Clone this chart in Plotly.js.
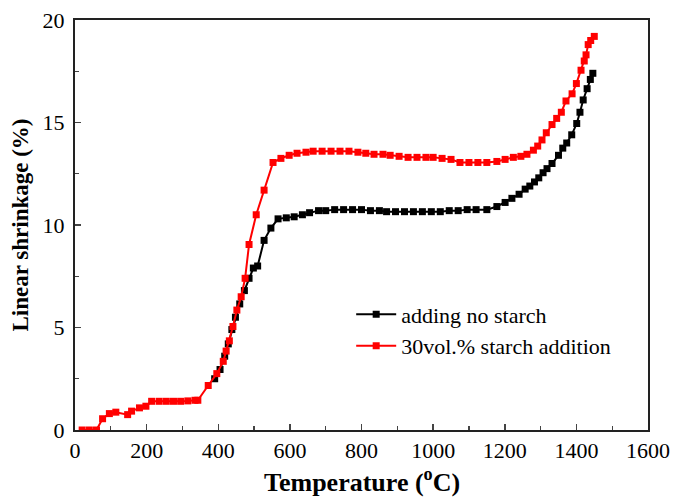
<!DOCTYPE html>
<html>
<head>
<meta charset="utf-8">
<script src="https://cdn.plot.ly/plotly-3.0.1.min.js"></script>
<style>html,body{margin:0;padding:0;background:#fff;}#chart{width:673px;height:498px;}</style>
</head>
<body>
<div id="chart"></div>
<script>
var noStarchT = [390,405,418,428,438,448,460,473,486,498,510,528,547,567,590,612,635,655,680,700,725,750,775,800,825,850,870,895,920,945,970,995,1020,1045,1070,1095,1120,1150,1178,1201,1220,1240,1257,1270,1283,1295,1307,1318,1332,1350,1362,1373,1387,1401,1410,1419,1430,1439,1446];
var noStarchY = [2.5,2.95,3.6,4.2,4.9,5.5,6.15,6.8,7.4,7.9,8.0,9.25,9.85,10.3,10.35,10.4,10.5,10.6,10.7,10.7,10.75,10.75,10.75,10.75,10.7,10.7,10.65,10.65,10.65,10.65,10.65,10.65,10.65,10.7,10.7,10.75,10.75,10.75,10.9,11.1,11.3,11.5,11.75,11.9,12.1,12.3,12.55,12.75,13.0,13.4,13.75,14.0,14.4,14.95,15.5,16.1,16.65,17.1,17.4];

var starchT = [20,40,60,77,96,114,147,158,180,198,214,235,255,275,295,315,335,343,372,396,414,422,431,441,452,464,475,486,506,528,553,575,598,620,645,665,690,715,740,765,790,812,835,860,880,905,930,955,980,1000,1025,1050,1075,1100,1125,1150,1178,1201,1224,1245,1262,1280,1292,1304,1316,1332,1345,1358,1371,1388,1400,1413,1422,1427,1433,1440,1450];
var starchY = [0,0,0,0.55,0.8,0.87,0.75,0.92,1.08,1.16,1.4,1.4,1.4,1.4,1.4,1.42,1.45,1.45,2.17,2.75,3.35,3.85,4.35,5.05,5.85,6.5,7.4,9.05,10.5,11.7,13.05,13.25,13.4,13.5,13.55,13.6,13.6,13.6,13.6,13.6,13.55,13.5,13.45,13.45,13.4,13.35,13.3,13.3,13.3,13.3,13.25,13.2,13.05,13.05,13.05,13.05,13.1,13.2,13.3,13.35,13.45,13.65,13.85,14.15,14.5,14.9,15.2,15.5,16.05,16.4,16.9,17.55,18.0,18.3,18.8,19.0,19.2];

var seriesNames = ['adding no starch','30vol.% starch addition'];
var xTitle = 'Temperature (<sup>o</sup>C)';
var yTitle = 'Linear shrinkage (%)';

var font = 'Liberation Serif, Times New Roman, serif';
var traces = [
  {x: noStarchT, y: noStarchY, name: seriesNames[0], type: 'scatter', mode: 'lines+markers',
   line: {color: '#000000', width: 2}, marker: {symbol: 'square', size: 7, color: '#000000'}},
  {x: starchT, y: starchY, name: seriesNames[1], type: 'scatter', mode: 'lines+markers',
   line: {color: '#ff0000', width: 2}, marker: {symbol: 'square', size: 7, color: '#ff0000'}}
];
var layout = {
  width: 673, height: 498,
  margin: {l: 75, r: 25, t: 19.5, b: 67.5},
  paper_bgcolor: '#fff', plot_bgcolor: '#fff',
  font: {family: font, size: 22, color: '#000'},
  showlegend: true,
  legend: {x: 0.482, y: 0.333, xanchor: 'left', yanchor: 'top', bgcolor: 'rgba(0,0,0,0)',
           font: {family: font, size: 22, color: '#000'}, tracegroupgap: 0, itemwidth: 40},
  xaxis: {range: [0, 1600], dtick: 200, tick0: 0, ticks: 'inside', ticklen: 6, tickwidth: 1.5,
          showline: true, linecolor: '#222', linewidth: 2, mirror: true, showgrid: false, zeroline: false,
          minor: {dtick: 100, ticks: 'inside', ticklen: 4, tickwidth: 1.2, showgrid: false},
          tickfont: {family: font, size: 22}},
  yaxis: {range: [0, 20], dtick: 5, tick0: 0, ticks: 'inside', ticklen: 6, tickwidth: 1.5,
          showline: true, linecolor: '#222', linewidth: 2, mirror: true, showgrid: false, zeroline: false,
          minor: {dtick: 2.5, ticks: 'inside', ticklen: 4, tickwidth: 1.2, showgrid: false},
          tickfont: {family: font, size: 22}, ticklabelstandoff: 4,
          title: {text: yTitle, font: {family: font, size: 23, weight: 'bold'}, standoff: 8}},
  annotations: [
    {text: '<b>' + xTitle + '</b>', xref: 'paper', yref: 'paper', x: 0.5, y: -0.124,
     xanchor: 'center', yanchor: 'middle', showarrow: false, font: {family: font, size: 26, color: '#000'}}
  ]
};
Plotly.newPlot('chart', traces, layout, {displayModeBar: false, staticPlot: true});
</script>
</body>
</html>
